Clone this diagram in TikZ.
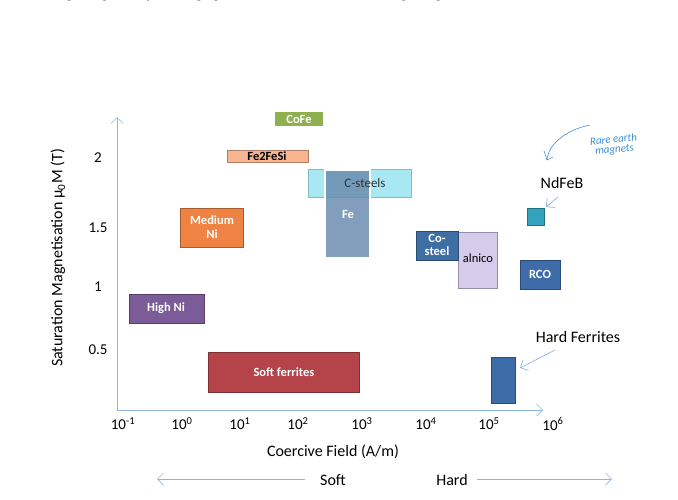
\documentclass[tikz,border=0pt]{standalone}
\usepackage{fontspec}
\setmainfont{Carlito}
\usetikzlibrary{arrows.meta}
\definecolor{ax}{HTML}{8EB4E3}
\definecolor{hand}{HTML}{3B8EDB}
\tikzset{
 box/.style={draw=#1!70!black, fill=#1, line width=0.6pt},
 lbl/.style={text=white, font=\bfseries\fontsize{12.5}{12.5}\selectfont},
 axlab/.style={font=\fontsize{15}{15}\selectfont},
 big/.style={font=\fontsize{16}{16}\selectfont},
 thin/.style={draw=ax, line width=0.7pt, -{Straight Barb[length=6pt]}},
}
\begin{document}
\begin{tikzpicture}[x=1pt,y=-1pt]
\useasboundingbox (0,0) rectangle (678,499);
\begin{scope}
\clip (0,0) rectangle (678,499);
\node[anchor=west, font=\fontsize{14}{14}\selectfont] (top) at (38,-5) {a huge range of objects ranging from motors to the humble fridge magnet.};
\end{scope}
% axes
\coordinate (O) at (117,410);
\coordinate (Ytop) at (117,117);
\coordinate (Xend) at (543,410);
\draw[thin] (O) -- (Ytop);
\draw[thin] (O) -- (Xend);
\node[axlab] (y2) at (98,158) {2};
\node[axlab] (y15) at (98,228) {1.5};
\node[axlab] (y1) at (98,287) {1};
\node[axlab] (y05) at (98,350) {0.5};
\foreach \n/\x/\e in {a/123/-1,b/182/0,c/240/1,d/298/2,e/362/3,f/426/4,g/489/5,h/553/6}
  \node[axlab] (x\n) at (\x,424) {10\textsuperscript{\e}};
\node[rotate=90, big] (ylab) at (58,258) {Saturation Magnetisation μ\textsubscript{0}M (T)};
\node[big] (xlab) at (333,452) {Coercive Field (A/m)};
\node[big] (soft) at (333,480) {Soft};
\node[big] (hard) at (452,480) {Hard};
\coordinate (sl) at (157,479);
\coordinate (sr) at (305,479);
\coordinate (hl) at (477,479);
\coordinate (hr) at (612,479);
\draw[thin] (sr) -- (sl);
\draw[thin] (hl) -- (hr);
% boxes
\definecolor{cofe}{HTML}{8EB04E}
\definecolor{fesi}{HTML}{F9B58F}
\definecolor{cst}{HTML}{A8E8F3}
\definecolor{fe}{HTML}{6C8DB0}
\definecolor{medni}{HTML}{EE8343}
\definecolor{hini}{HTML}{7B5C98}
\definecolor{sfer}{HTML}{B5444A}
\definecolor{cost}{HTML}{3E6EA3}
\definecolor{aln}{HTML}{D6CBEA}
\definecolor{rco}{HTML}{3D6CA8}
\definecolor{ndf}{HTML}{33A2BB}
\draw[black!25, line width=2.5pt] (274,111) rectangle (324,127);
\draw[white, line width=1.5pt, fill=cofe] (274,111) rectangle (324,127);
\node[lbl] (cofe) at (299,119) {CoFe};
\draw[box=fesi] (227,150) rectangle (308,162);
\node[font=\bfseries\fontsize{12.5}{12.5}\selectfont] (fesi) at (267,156) {Fe2FeSi};
\draw[box=cst, draw=cst!80!black] (308,169) rectangle (411,197);
\draw[white, line width=2pt, fill=fe, fill opacity=0.85] (325,170) rectangle (370,258);
\node[font=\fontsize{13}{13}\selectfont, text=black!80] (cst) at (365,183) {C-steels};
\node[lbl] (fe) at (348,214) {Fe};
\draw[box=medni] (180,208) rectangle (243,247);
\node[lbl, align=center, font=\bfseries\fontsize{12.5}{13.5}\selectfont] (medni) at (212,227) {Medium\\Ni};
\draw[box=hini] (129,294) rectangle (204,323);
\node[lbl] (hini) at (166,308) {High Ni};
\draw[box=sfer] (208,352) rectangle (359,392);
\node[lbl] (sfer) at (284,372) {Soft ferrites};
\draw[box=aln] (458,232) rectangle (497,288);
\node[font=\fontsize{12.5}{12.5}\selectfont] (aln) at (478,258) {alnico};
\draw[box=cost] (416,231) rectangle (458,260);
\node[lbl, align=center, font=\bfseries\fontsize{12.5}{13.5}\selectfont] (cost) at (437,245) {Co-\\steel};
\draw[box=rco] (520,260) rectangle (560,289);
\node[lbl] (rco) at (540,274) {RCO};
\draw[box=ndf] (527,208) rectangle (544,225);
\coordinate (ndfc) at (546,207);
\draw[box=rco] (491,357) rectangle (515,403);
\coordinate (hfc) at (520,368);
\node[big] (ndl) at (562,183) {NdFeB};
\node[big] (hfl) at (578,337) {Hard Ferrites};
\coordinate (nds) at (558,197);
\coordinate (hfs) at (555,350);
\draw[thin] (nds) -- (ndfc);
\draw[thin] (hfs) -- (hfc);
% handwritten
\node[text=hand, font=\itshape\fontsize{11}{10}\selectfont, align=center, rotate=6] (rare) at (614,145) {Rare earth\\magnets};
\coordinate (h1) at (590,125);
\coordinate (h2) at (547,160);
\draw[hand, line width=0.6pt] (h1) .. controls (565,130) and (548,145) .. (h2);
\draw[hand, line width=0.6pt] (544,151) -- (h2) -- (553,157);
\end{tikzpicture}
\end{document}
